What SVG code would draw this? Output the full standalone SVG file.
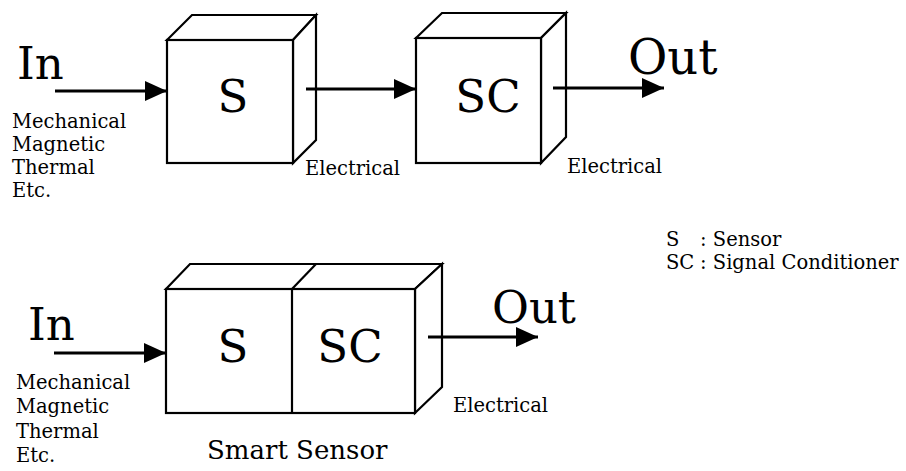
<svg xmlns="http://www.w3.org/2000/svg" width="906" height="471" viewBox="0 0 906 471">
<defs>
<marker id="ah" markerUnits="userSpaceOnUse" markerWidth="24" markerHeight="22" refX="22" refY="10" orient="auto" viewBox="0 0 24 22">
<path d="M0,0 L22,10 L0,20 Z" fill="#000"/>
</marker>
<style>
.box{fill:#fff;stroke:#000;stroke-width:2.2;stroke-linejoin:miter}
.edge{fill:none;stroke:#000;stroke-width:2.2}
.conn{fill:none;stroke:#000;stroke-width:3;marker-end:url(#ah)}
.big{font-family:"DejaVu Serif","Liberation Serif",serif;font-size:45px;fill:#000}
.sm{font-family:"DejaVu Serif","Liberation Serif",serif;font-size:19.5px;fill:#000}
.mid{font-family:"DejaVu Serif","Liberation Serif",serif;font-size:26px;fill:#000}
</style>
</defs>
<rect width="906" height="471" fill="#fff"/>

<g id="top-sensor">
<polygon class="box" points="167,40 192,15 316,15 293,40"/>
<polygon class="box" points="293,40 316,15 316,140 293,163"/>
<rect class="box" x="167" y="40" width="126" height="123"/>
<text class="big" x="233" y="112" text-anchor="middle">S</text>
</g>

<g id="top-sc">
<polygon class="box" points="416,38 442,13 566,13 541,38"/>
<polygon class="box" points="541,38 566,13 566,137 541,163"/>
<rect class="box" x="416" y="38" width="125" height="125"/>
<text class="big" x="488" y="112" text-anchor="middle">SC</text>
</g>

<g id="smart-sensor">
<polygon class="box" points="166,289 190,264 442,264 415,289"/>
<polygon class="box" points="415,289 442,264 442,387 415,413"/>
<rect class="box" x="166" y="289" width="249" height="124"/>
<line class="edge" x1="292" y1="289" x2="292" y2="413"/>
<line class="edge" x1="292" y1="289" x2="316" y2="264"/>
<text class="big" x="233" y="362" text-anchor="middle">S</text>
<text class="big" x="350" y="362" text-anchor="middle">SC</text>
<text class="mid" x="207" y="459">Smart Sensor</text>
</g>

<g id="connectors">
<line class="conn" x1="55" y1="91" x2="167" y2="91"/>
<line class="conn" x1="306" y1="89" x2="416" y2="89"/>
<line class="conn" x1="553" y1="88" x2="664" y2="88"/>
<line class="conn" x1="54" y1="353" x2="166" y2="353"/>
<line class="conn" x1="428" y1="337" x2="538" y2="337"/>
</g>

<g id="top-labels">
<text class="big" x="17" y="79">In</text>
<text class="big" x="628" y="74" style="font-size:48px">Out</text>
<text class="sm" x="12" y="128">Mechanical</text>
<text class="sm" x="12" y="151">Magnetic</text>
<text class="sm" x="12" y="174">Thermal</text>
<text class="sm" x="12" y="197">Etc.</text>
<text class="sm" x="305" y="175">Electrical</text>
<text class="sm" x="567" y="173">Electrical</text>
</g>

<g id="bottom-labels">
<text class="big" x="28" y="340">In</text>
<text class="big" x="492" y="323">Out</text>
<text class="sm" x="16" y="389">Mechanical</text>
<text class="sm" x="16" y="413">Magnetic</text>
<text class="sm" x="16" y="438">Thermal</text>
<text class="sm" x="16" y="462">Etc.</text>
<text class="sm" x="453" y="412">Electrical</text>
</g>

<g id="legend">
<text class="sm" x="666" y="246">S</text>
<text class="sm" x="700" y="246">: Sensor</text>
<text class="sm" x="666" y="269">SC</text>
<text class="sm" x="700" y="269">: Signal Conditioner</text>
</g>
</svg>
